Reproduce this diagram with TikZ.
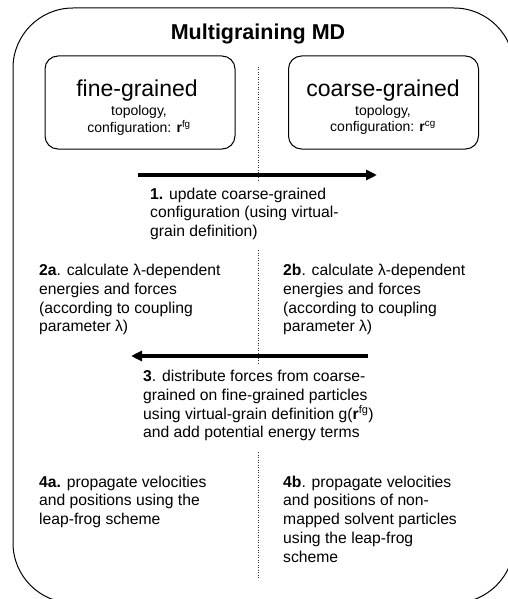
\documentclass[tikz,border=0pt]{standalone}
\usepackage{fontspec}
\setmainfont{Liberation Sans}
\usetikzlibrary{arrows.meta}
\begin{document}
\begin{tikzpicture}[x=1pt,y=-1pt,
  body/.style={anchor=base west, inner sep=0pt, font=\fontsize{15.7}{18.75}\selectfont},
  boxhead/.style={anchor=base, inner sep=0pt, font=\fontsize{23}{26}\selectfont},
  boxsub/.style={anchor=base, inner sep=0pt, font=\fontsize{14}{17}\selectfont},
  grainbox/.style={draw, line width=1pt, rounded corners=13pt, minimum width=190pt, minimum height=93pt, inner sep=0pt},
  flow/.style={line width=3.3pt, -{Triangle[length=11pt,width=10pt]}},
  divider/.style={line width=0.5pt, dotted, black!80}]
\useasboundingbox (0,0) rectangle (508,599);
\clip (0,0) rectangle (508,599);
% outer frame
\draw[line width=1pt, rounded corners=60pt] (13,8) rectangle (514,603);
\node[anchor=base, inner sep=0pt, font=\fontsize{21.5}{25}\selectfont\bfseries] (title) at (258,40) {Multigraining MD};
% boxes
\node[grainbox] (fg) at (140,102.5) {};
\node[grainbox] (cg) at (383.5,102.5) {};
\node[boxhead] (fgh) at (137,97) {fine-grained};
\node[boxsub] (fgs) at (139,115) {\begin{tabular}[t]{@{}c@{}}topology,\\configuration: \textbf{r}\textsuperscript{fg}\end{tabular}};
\node[boxhead] (cgh) at (383,97) {coarse-grained};
\node[boxsub] (cgs) at (383,115) {\begin{tabular}[t]{@{}c@{}}topology,\\configuration: \textbf{r}\textsuperscript{cg}\end{tabular}};
% dotted divider
\coordinate (d1) at (258,67); \coordinate (d2) at (258,182);
\coordinate (d3) at (258,250); \coordinate (d4) at (258,363);
\coordinate (d5) at (258,452); \coordinate (d6) at (258,578);
\draw[divider] (d1) -- (d2);
\draw[divider] (d3) -- (d4);
\draw[divider] (d5) -- (d6);
% arrows
\coordinate (a1s) at (138,175); \coordinate (a1e) at (377,175);
\coordinate (a3s) at (368,356); \coordinate (a3e) at (131,356);
\draw[flow] (a1s) -- (a1e);
\draw[flow] (a3s) -- (a3e);
% texts
\node[body] (s1) at (150,199) {\begin{tabular}[t]{@{}l@{}}\textbf{1.} update coarse-grained\\configuration (using virtual-\\grain definition)\end{tabular}};
\node[body] (s2a) at (39,275.5) {\begin{tabular}[t]{@{}l@{}}\textbf{2a}. calculate λ-dependent\\energies and forces\\(according to coupling\\parameter λ)\end{tabular}};
\node[body] (s2b) at (283,275.5) {\begin{tabular}[t]{@{}l@{}}\textbf{2b}. calculate λ-dependent\\energies and forces\\(according to coupling\\parameter λ)\end{tabular}};
\node[body] (s3) at (143,381.5) {\begin{tabular}[t]{@{}l@{}}\textbf{3}. distribute forces from coarse-\\grained on fine-grained particles\\using virtual-grain definition g(\textbf{r}\textsuperscript{fg})\\and add potential energy terms\end{tabular}};
\node[body] (s4a) at (39,487) {\begin{tabular}[t]{@{}l@{}}\textbf{4a.} propagate velocities\\and positions using the\\leap-frog scheme\end{tabular}};
\node[body] (s4b) at (283,487) {\begin{tabular}[t]{@{}l@{}}\textbf{4b}. propagate velocities\\and positions of non-\\mapped solvent particles\\using the leap-frog\\scheme\end{tabular}};
\end{tikzpicture}
\end{document}
